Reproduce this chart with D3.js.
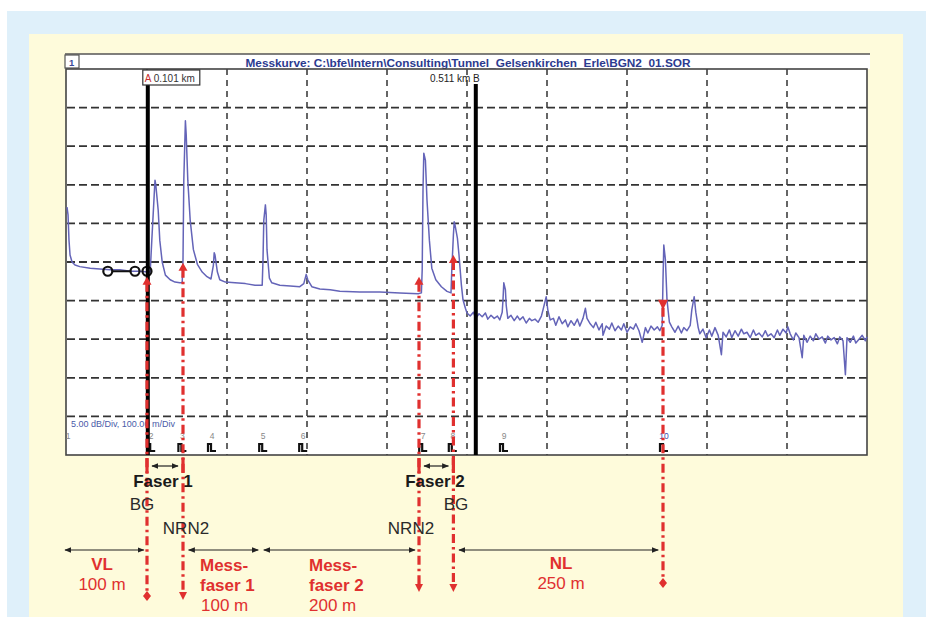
<!DOCTYPE html>
<html>
<head>
<meta charset="utf-8">
<script src="https://cdn.jsdelivr.net/npm/d3@7"></script>
<style>
body{margin:0;background:#fff;}
svg{display:block;font-family:"Liberation Sans",Arial,sans-serif;}
</style>
</head>
<body>
<main></main>
<script>
// OTDR trace, distance in m, level in dB
const trace = [
[0,32.1],[1.3,31.1],[2.5,27.8],[3.8,25.9],[6.3,25.0],[10,24.6],[16,24.4],[29,24.2],[41,24.1],[54,24.0],[66,24.0],[79,23.8],[91,23.8],[101,23.7],
[104,23.7],[106,27.8],[109,33.7],[110,35.6],[111,35.0],[114,31.7],[116,27.8],[119,25.0],[123,23.3],[129,22.7],[135,22.4],[141,22.3],[144,22.3],
[145,25.3],[146,35.6],[148,43.3],[149,41.5],[151,35.6],[154,30.4],[158,26.6],[163,24.7],[169,23.7],[175,23.1],[180,22.8],
[183,24.6],[184,26.2],[185,25.9],[188,23.7],[191,22.7],[198,22.4],[210,22.3],[223,22.2],[235,22.0],[244,22.0],
[245,25.3],[246,30.4],[248,32.4],[249,31.1],[250,26.6],[253,22.9],[256,22.3],[266,22.0],[279,21.9],[291,21.8],[296,22.2],
[299,23.4],[301,22.7],[306,21.8],[316,21.5],[329,21.4],[341,21.2],[366,21.1],[391,21.1],[416,21.0],[439,20.9],[443,21.0],
[444,24.0],[445,34.3],[446,39.1],[448,38.2],[450,33.0],[453,27.8],[456,24.2],[461,22.7],[468,21.8],[475,21.2],[480,21.0],
[481,24.0],[483,28.5],[484,30.2],[485,29.8],[488,28.1],[490,25.9],[493,22.0],[495,20.1],[498,19.0],[500,18.4],
[504,18.0],[508,18.5],[511,17.7],[515,18.3],[519,17.9],[523,18.4],[526,17.6],[530,18.1],[534,17.7],[538,18.0],[541,17.5],[544,18.5],
[545,20.1],[546,22.3],[548,21.4],[549,19.4],[551,17.7],[555,18.1],[559,17.4],[563,18.0],[566,17.5],[570,17.9],[574,17.1],[578,17.7],
[581,17.4],[585,17.6],[589,17.2],[593,18.0],[595,18.8],[599,20.5],[601,18.8],[604,17.5],[608,17.7],[611,16.8],[615,17.9],[619,17.0],
[623,17.5],[626,16.6],[630,17.4],[634,16.8],[638,17.6],[641,16.7],[645,17.7],[648,19.0],[650,17.7],[654,17.0],[658,16.5],[661,17.2],
[665,16.2],[669,17.0],[670,15.5],[674,16.7],[678,16.3],[681,17.1],[685,16.1],[689,16.7],[693,16.2],[696,17.0],[700,15.9],[704,16.6],
[708,16.3],[711,17.0],[715,16.1],[719,14.6],[723,16.5],[726,15.8],[730,16.7],[734,16.2],[738,16.6],[741,16.1],[744,16.8],
[745,22.7],[746,27.2],[748,25.3],[750,20.1],[753,17.2],[756,16.6],[760,15.9],[764,16.7],[768,15.8],[771,16.5],[775,16.1],[779,16.8],
[781,18.8],[784,20.5],[786,18.5],[789,16.5],[791,15.7],[795,16.3],[799,15.2],[803,16.2],[806,15.4],[810,16.5],[814,15.5],[818,13.0],
[820,15.9],[824,15.3],[828,16.2],[831,15.2],[835,16.1],[839,15.4],[843,16.3],[846,15.7],[850,15.9],[854,15.2],[858,16.2],[861,15.5],
[865,15.8],[869,15.3],[873,16.1],[876,15.4],[880,15.7],[884,15.2],[888,16.2],[891,15.5],[895,16.3],[899,15.8],[901,16.6],[904,15.7],
[908,14.9],[911,15.8],[915,15.2],[919,12.6],[921,15.5],[925,14.6],[929,15.4],[933,14.8],[936,15.7],[940,15.0],[944,15.3],[948,14.5],
[951,15.4],[955,14.9],[959,15.2],[963,14.4],[966,15.3],[970,14.8],[973,10.4],[975,15.2],[979,14.6],[983,15.4],[986,14.5],[990,15.0],
[994,15.5],[998,14.8],[1000,15.3]
];

const eventDist = [0,104,143,180,244,294,444,481,545,745];
const eventNum = ["1","2","3","4","5","6","7","8","9","10"];

const cursorDist = [101,511];
const cursorText = ["A 0.101 km","0.511 km B"];

const refCircleDist = [51,85,100];
const refCircleDb = 23.8;

// red dash-dot markers: distance, tip level (dB), tip type, end type
const markDist = [100,145,440,483,745];
const markTipDb = [23.1,24.9,23.1,25.9,20.1];
const markTip = ["up","up","up","up","down"];
const markEnd = ["dot","down","down","down","dot"];

// spans below the chart
const spanStart = [-2.5,152,246,490];
const spanEnd = [96,239,435,739];

const title = "Messkurve: C:\\bfe\\Intern\\Consulting\\Tunnel_Gelsenkirchen_Erle\\BGN2_01.SOR";

function drawChart(){
    var W = 926, H = 617;
    var red = "#e0302f";
    var svg = d3.select("main").append("svg")
        .attr("width", W).attr("height", H);

    svg.append("rect").attr("width", W).attr("height", H).attr("fill", "#fff");
    svg.append("rect").attr("x", 7).attr("y", 11).attr("width", W-7).attr("height", H-11).attr("fill", "#dff0fa");
    svg.append("rect").attr("x", 29).attr("y", 34).attr("width", 874).attr("height", H-34).attr("fill", "#fefbdb");

    const xScale = d3.scaleLinear().domain([0,1000]).range([67,867]);
    const yScale = d3.scaleLinear().domain([0,50]).range([455,69]);

    // header
    svg.append("rect").attr("x", 65).attr("y", 54).attr("width", 805).attr("height", 15).attr("fill", "#fff");
    svg.append("line").attr("x1", 65).attr("x2", 870).attr("y1", 54).attr("y2", 54)
        .attr("stroke", "#555").attr("stroke-width", 1.5);
    svg.append("rect").attr("x", 65).attr("y", 55).attr("width", 14).attr("height", 13)
        .attr("fill", "#fff").attr("stroke", "#555").attr("stroke-width", 1.2);
    svg.append("text").attr("x", 69).attr("y", 66).attr("font-size", 9.5).attr("font-weight", "bold")
        .attr("fill", "#3a4a9a").text("1");
    svg.append("text").attr("x", 468).attr("y", 66.5).attr("text-anchor", "middle")
        .attr("font-size", 11.8).attr("font-weight", "bold").attr("fill", "#2b3a8f").text(title);

    // plot area
    svg.append("rect").attr("x", 66).attr("y", 69).attr("width", 801).attr("height", 386).attr("fill", "#fff");

    svg.append("g").selectAll("line")
        .data(d3.range(5,50,5))
        .enter().append("line")
        .attr("x1", 67).attr("x2", 867)
        .attr("y1", d => yScale(d)).attr("y2", d => yScale(d))
        .attr("stroke", "#333").attr("stroke-width", 1.8).attr("stroke-dasharray", "8,4");

    svg.append("g").selectAll("line")
        .data(d3.range(100,1000,100))
        .enter().append("line")
        .attr("x1", d => xScale(d)).attr("x2", d => xScale(d))
        .attr("y1", 69).attr("y2", 455)
        .attr("stroke", "#333").attr("stroke-width", 1.5).attr("stroke-dasharray", "6,5");

    svg.append("rect").attr("x", 66).attr("y", 69).attr("width", 801).attr("height", 386)
        .attr("fill", "none").attr("stroke", "#444").attr("stroke-width", 1.6);

    svg.append("text").attr("x", 71).attr("y", 427).attr("font-size", 9)
        .attr("fill", "#4a5aa8").text("5.00 dB/Div, 100.00 m/Div");

    // events
    var ev = svg.append("g").selectAll("g")
        .data(eventDist)
        .enter().append("g");
    ev.append("text")
        .attr("x", d => xScale(d)+1).attr("y", 439)
        .attr("text-anchor", "middle").attr("font-size", 8.5)
        .attr("fill", (d,i) => i == 9 ? "#3a4ab0" : "#888")
        .text((d,i) => eventNum[i]);
    ev.filter((d,i) => i > 0).append("path")
        .attr("d", d => {
            var x = xScale(d);
            return "M"+(x-3)+",452 V444 H"+x+" V451 H"+(x+5);
        })
        .attr("fill", "none").attr("stroke", "#111").attr("stroke-width", 2.2);

    // trace
    const line = d3.line().x(d => xScale(d[0])).y(d => yScale(d[1]));
    svg.append("path").datum(trace)
        .attr("d", line)
        .attr("fill", "none").attr("stroke", "#6464b8").attr("stroke-width", 1.5)
        .attr("stroke-linejoin", "round");

    // reference circles
    svg.append("line")
        .attr("x1", xScale(refCircleDist[0])+4).attr("x2", xScale(refCircleDist[1])-4)
        .attr("y1", yScale(refCircleDb)).attr("y2", yScale(refCircleDb))
        .attr("stroke", "#111").attr("stroke-width", 2);
    svg.append("g").selectAll("circle")
        .data(refCircleDist)
        .enter().append("circle")
        .attr("cx", d => xScale(d)).attr("cy", yScale(refCircleDb)).attr("r", 4.5)
        .attr("fill", "none").attr("stroke", "#111").attr("stroke-width", 2.2);

    // cursors
    svg.append("g").selectAll("line")
        .data(cursorDist)
        .enter().append("line")
        .attr("x1", d => xScale(d)).attr("x2", d => xScale(d))
        .attr("y1", (d,i) => i == 0 ? 85 : 84).attr("y2", 455)
        .attr("stroke", "#000").attr("stroke-width", 4);
    svg.append("rect").attr("x", xScale(cursorDist[0])-5).attr("y", 70).attr("width", 57).attr("height", 15)
        .attr("fill", "#fff").attr("stroke", "#333").attr("stroke-width", 1.2);
    var ta = svg.append("text").attr("x", xScale(cursorDist[0])-3).attr("y", 81.5).attr("font-size", 10).attr("fill", "#333");
    ta.append("tspan").attr("fill", "#c83030").text(cursorText[0].slice(0,1));
    ta.append("tspan").text(cursorText[0].slice(1));
    svg.append("text").attr("x", xScale(cursorDist[1])+4).attr("y", 81.5).attr("text-anchor", "end")
        .attr("font-size", 10).attr("fill", "#222").text(cursorText[1]);

    // red dash-dot markers
    var mk = svg.append("g");
    var markBottom = [596,597,589,589,583];
    markDist.forEach((d,i) => {
        var x = xScale(d), yt = yScale(markTipDb[i]), yb = markBottom[i];
        mk.append("line").attr("x1", x).attr("x2", x)
            .attr("y1", yt + (markTip[i] == "up" ? 6 : 8)).attr("y2", yb - 4)
            .attr("stroke", red).attr("stroke-width", 3.2).attr("stroke-dasharray", "9,4,2.5,4");
        if (markTip[i] == "up") {
            mk.append("path").attr("d", "M"+x+","+yt+" L"+(x-4.5)+","+(yt+8)+" L"+(x+4.5)+","+(yt+8)+"Z").attr("fill", red);
        } else {
            mk.append("path").attr("d", "M"+(x-5)+","+yt+" L"+(x+5)+","+yt+" L"+x+","+(yt+10)+"Z").attr("fill", red);
        }
        if (markEnd[i] == "dot") {
            mk.append("path").attr("d", "M"+x+","+(yb-5)+" L"+(x+4)+","+yb+" L"+x+","+(yb+5)+" L"+(x-4)+","+yb+"Z").attr("fill", red);
        } else {
            mk.append("path").attr("d", "M"+(x-4)+","+(yb-5)+" L"+(x+4)+","+(yb-5)+" L"+x+","+(yb+3)+"Z").attr("fill", red);
        }
    });
    // solid red ends around the fibre brackets
    [0,1,2,3].forEach(i => {
        var x = xScale(markDist[i]);
        mk.append("line").attr("x1", x).attr("x2", x).attr("y1", 458).attr("y2", 473)
            .attr("stroke", red).attr("stroke-width", 3.2);
    });

    // arrow heads
    var defs = svg.append("defs");
    defs.append("marker").attr("id", "ah").attr("viewBox", "0 0 10 10")
        .attr("refX", 9).attr("refY", 5).attr("markerWidth", 7).attr("markerHeight", 7)
        .attr("markerUnits", "userSpaceOnUse").attr("orient", "auto-start-reverse")
        .append("path").attr("d", "M0,1 L10,5 L0,9 Z").attr("fill", "#222");

    // fibre brackets
    [[0,1],[2,3]].forEach(p => {
        svg.append("line")
            .attr("x1", xScale(markDist[p[0]])+5).attr("x2", xScale(markDist[p[1]])-5)
            .attr("y1", 466).attr("y2", 466)
            .attr("stroke", "#222").attr("stroke-width", 1.2)
            .attr("marker-start", "url(#ah)").attr("marker-end", "url(#ah)");
    });

    // spans
    svg.append("g").selectAll("line")
        .data(spanStart)
        .enter().append("line")
        .attr("x1", d => xScale(d)).attr("x2", (d,i) => xScale(spanEnd[i]))
        .attr("y1", 550).attr("y2", 550)
        .attr("stroke", "#222").attr("stroke-width", 1.2)
        .attr("marker-start", "url(#ah)").attr("marker-end", "url(#ah)");

    // labels
    var lab = svg.append("g").attr("font-size", 17);
    function t(x, y, s, o){
        o = o || {};
        return lab.append("text").attr("x", x).attr("y", y)
            .attr("text-anchor", o.anchor || "middle")
            .attr("font-weight", o.bold ? "bold" : "normal")
            .attr("fill", o.fill || "#2a2a2a").text(s);
    }
    t(163, 487, "Faser 1", {bold:true, fill:"#1a1a1a"});
    t(142, 510, "BG");
    t(186, 534, "NRN2");
    t(435, 487, "Faser 2", {bold:true, fill:"#1a1a1a"});
    t(456, 510, "BG");
    t(411, 534, "NRN2");

    t(102, 570, "VL", {bold:true, fill:red});
    t(102, 590, "100 m", {fill:red});
    t(200, 571, "Mess-", {bold:true, fill:red, anchor:"start"});
    t(200, 591, "faser 1", {bold:true, fill:red, anchor:"start"});
    t(201, 611, "100 m", {fill:red, anchor:"start"});
    t(309, 571, "Mess-", {bold:true, fill:red, anchor:"start"});
    t(309, 591, "faser 2", {bold:true, fill:red, anchor:"start"});
    t(309, 611, "200 m", {fill:red, anchor:"start"});
    t(561, 569, "NL", {bold:true, fill:red});
    t(561, 589, "250 m", {fill:red});
}

drawChart();
</script>
</body>
</html>
